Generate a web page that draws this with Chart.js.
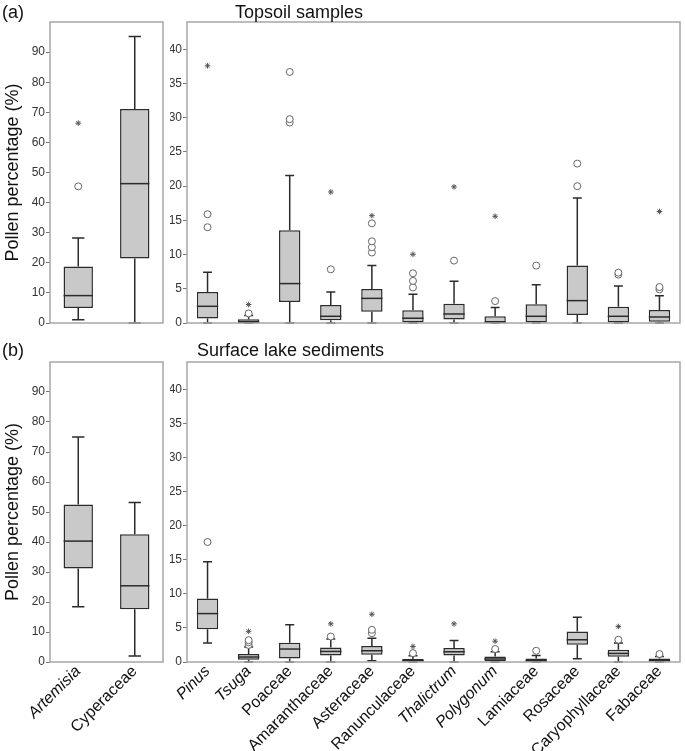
<!DOCTYPE html>
<html>
<head>
<meta charset="utf-8">
<script src="https://cdn.jsdelivr.net/npm/chart.js@4.4.1/dist/chart.umd.min.js"></script>
<style>
  body { margin: 0; background: #fff; }
  #wrap { position: relative; width: 685px; height: 751px; font-family: "Liberation Sans", Arial, sans-serif; }
  canvas { position: absolute; }
  .lbl { position: absolute; font-size: 18px; color: #111; white-space: nowrap; z-index: 2; }
</style>
</head>
<body>
<div id="wrap">
  <canvas id="topLeft" width="170" height="340" style="left:0;top:0"></canvas>
  <canvas id="topRight" width="515" height="340" style="left:170px;top:0"></canvas>
  <canvas id="lakeLeft" width="170" height="411" style="left:0;top:340px"></canvas>
  <canvas id="lakeRight" width="515" height="411" style="left:170px;top:340px"></canvas>
  <div class="lbl" style="left:2px;top:2px">(a)</div>
  <div class="lbl" style="left:235px;top:2px">Topsoil samples</div>
  <div class="lbl" style="left:2px;top:340px">(b)</div>
  <div class="lbl" style="left:197px;top:340px">Surface lake sediments</div>
</div>
<script>
const FONT = '"Liberation Sans", Arial, sans-serif';

const majorTaxa = ['Artemisia', 'Cyperaceae'];
const minorTaxa = ['Pinus', 'Tsuga', 'Poaceae', 'Amaranthaceae', 'Asteraceae', 'Ranunculaceae',
  'Thalictrum', 'Polygonum', 'Lamiaceae', 'Rosaceae', 'Caryophyllaceae', 'Fabaceae'];
const italicTaxa = ['Artemisia', 'Pinus', 'Tsuga', 'Thalictrum', 'Polygonum'];

const majorTicks = [0, 10, 20, 30, 40, 50, 60, 70, 80, 90];
const minorTicks = [0, 5, 10, 15, 20, 25, 30, 35, 40];

// (a) topsoil samples - major taxa
const topMajorMin = [1.1, 0];
const topMajorQ1 = [5.0, 21.4];
const topMajorMedian = [9.1, 46.3];
const topMajorQ3 = [18.8, 71.1];
const topMajorMax = [28.2, 95.2];
const topMajorCircles = [[45.4], []];
const topMajorStars = [[66.4], []];

// (a) topsoil samples - other taxa
const topMinorMin = [0, 0, 0, 0, 0, 0, 0, 0, 0, 0, 0, 0];
const topMinorQ1 = [0.64, 0, 3.07, 0.39, 1.66, 0, 0.5, 0, 0, 1.17, 0, 0.2];
const topMinorMedian = [2.44, 0.1, 5.76, 0.98, 3.6, 0.7, 1.32, 0.1, 0.98, 3.27, 0.98, 0.88];
const topMinorQ3 = [4.53, 0.54, 13.55, 2.63, 4.97, 1.86, 2.83, 0.98, 2.73, 8.39, 2.39, 1.9];
const topMinorMax = [7.41, 1.08, 21.55, 4.53, 8.39, 4.2, 6.1, 2.25, 5.6, 18.28, 5.4, 4.0];
const topMinorCircles = [[14.0, 15.9], [1.4], [29.3, 29.8, 36.7], [7.85], [10.3, 11.07, 11.94, 14.57],
  [5.2, 6.15, 7.27], [9.12], [3.2], [8.39], [20.0, 23.3], [7.07, 7.36], [4.92, 5.26]];
const topMinorStars = [[37.6], [2.7], [], [19.15], [15.7], [10.04], [19.9], [15.6], [], [], [], [16.3]];

// (b) surface lake sediments - major taxa
const lakeMajorMin = [18.4, 2.0];
const lakeMajorQ1 = [31.2, 17.6];
const lakeMajorMedian = [40.3, 25.4];
const lakeMajorQ3 = [52.5, 42.6];
const lakeMajorMax = [75.0, 53.2];
const lakeMajorCircles = [[], []];
const lakeMajorStars = [[], []];

// (b) surface lake sediments - other taxa
const lakeMinorMin = [2.8, 0, 0, 0, 0.2, 0, 0, 0, 0, 0.48, 0, 0];
const lakeMinorQ1 = [4.8, 0.34, 0.53, 0.97, 1.07, 0, 0.95, 0.1, 0, 2.53, 0.78, 0];
const lakeMinorMedian = [7.1, 0.73, 1.9, 1.55, 1.65, 0.2, 1.5, 0.44, 0.15, 3.26, 1.26, 0.2];
const lakeMinorQ3 = [9.3, 1.17, 2.82, 2.14, 2.34, 0.45, 2.04, 0.82, 0.5, 4.47, 1.8, 0.5];
const lakeMinorMax = [14.7, 2.19, 5.45, 3.36, 3.5, 0.92, 3.16, 1.5, 0.97, 6.57, 2.77, 0.82];
const lakeMinorCircles = [[17.6], [2.5, 2.9, 3.2], [], [3.74], [4.23, 4.72], [1.3], [], [1.9], [1.65], [], [3.26], [1.17]];
const lakeMinorStars = [[], [4.5], [], [5.6], [7.0], [2.28], [5.6], [3.05], [], [], [5.2], []];

function toPoints(cats, lists) {
  const pts = [];
  lists.forEach((vals, i) => vals.forEach((v) => pts.push({ x: cats[i], y: v })));
  return pts;
}

const boxWhiskers = {
  id: 'boxWhiskers',
  beforeDatasetsDraw(chart, args, opts) {
    const s = opts.stats;
    const y = chart.scales.y;
    const meta = chart.getDatasetMeta(2);
    const ctx = chart.ctx;
    ctx.save();
    ctx.strokeStyle = '#2b2b2b';
    ctx.lineWidth = 1.5;
    meta.data.forEach((bar, i) => {
      const half = bar.width * 0.21;
      const segs = [[s.max[i], s.q3[i]], [s.min[i], s.q1[i]]];
      segs.forEach(([end, edge]) => {
        const ye = y.getPixelForValue(end);
        ctx.beginPath();
        ctx.moveTo(bar.x, ye);
        ctx.lineTo(bar.x, y.getPixelForValue(edge));
        ctx.moveTo(bar.x - half, ye);
        ctx.lineTo(bar.x + half, ye);
        ctx.stroke();
      });
    });
    ctx.restore();
  },
  afterDatasetsDraw(chart, args, opts) {
    const s = opts.stats;
    const y = chart.scales.y;
    const meta = chart.getDatasetMeta(2);
    const ctx = chart.ctx;
    ctx.save();
    ctx.strokeStyle = '#2b2b2b';
    ctx.lineWidth = 1.5;
    meta.data.forEach((bar, i) => {
      const ym = y.getPixelForValue(s.median[i]);
      ctx.beginPath();
      ctx.moveTo(bar.x - bar.width / 2, ym);
      ctx.lineTo(bar.x + bar.width / 2, ym);
      ctx.stroke();
    });
    const a = chart.chartArea;
    ctx.strokeStyle = '#a6a6a6';
    ctx.lineWidth = 1.5;
    ctx.strokeRect(a.left, a.top, a.right - a.left, a.bottom - a.top);
    ctx.restore();
  }
};

function makePanel(id, cats, s, cfg) {
  return new Chart(document.getElementById(id), {
    type: 'bar',
    data: {
      labels: cats,
      datasets: [
        {
          type: 'scatter', data: toPoints(cats, s.circles), pointStyle: 'circle', pointRadius: 3.5,
          backgroundColor: '#fff', borderColor: '#666', borderWidth: 1, order: 0
        },
        {
          type: 'scatter', data: toPoints(cats, s.stars), pointStyle: 'star', pointRadius: 2.8,
          borderColor: '#555', borderWidth: 1, order: 0
        },
        {
          data: cats.map((c, i) => [s.q1[i], s.q3[i]]),
          backgroundColor: '#c9c9c9', borderColor: '#2b2b2b', borderWidth: 1.5, borderSkipped: false,
          barPercentage: 0.52, categoryPercentage: 1, order: 1
        }
      ]
    },
    options: {
      responsive: false,
      animation: false,
      events: [],
      layout: { padding: { top: 22, right: cfg.padRight, left: 0, bottom: 0 } },
      plugins: { legend: { display: false }, tooltip: { enabled: false }, boxWhiskers: { stats: s } },
      scales: {
        x: {
          type: 'category',
          offset: true,
          grid: { display: false },
          border: { display: false },
          afterFit: (scale) => { scale.height = cfg.xHeight; },
          ticks: {
            display: cfg.showLabels,
            autoSkip: false,
            minRotation: 45,
            maxRotation: 45,
            padding: -8,
            color: '#111',
            font: (c) => ({ family: FONT, size: 16, style: italicTaxa.includes(cats[c.index]) ? 'italic' : 'normal' })
          }
        },
        y: {
          min: 0,
          max: cfg.yMax,
          border: { display: false },
          grid: { drawOnChartArea: false, tickLength: 4, color: '#777' },
          afterFit: (scale) => { scale.width = cfg.yWidth; },
          afterBuildTicks: (scale) => { scale.ticks = cfg.ticks.map((v) => ({ value: v })); },
          ticks: { padding: 1, color: '#333', font: { family: FONT, size: 12 } },
          title: {
            display: cfg.showTitle,
            text: 'Pollen percentage (%)',
            color: '#111',
            padding: { top: 2, bottom: 0 },
            font: { family: FONT, size: 18 }
          }
        }
      }
    },
    plugins: [boxWhiskers]
  });
}

makePanel('topLeft', majorTaxa, {
  min: topMajorMin, q1: topMajorQ1, median: topMajorMedian, q3: topMajorQ3, max: topMajorMax,
  circles: topMajorCircles, stars: topMajorStars
}, { padRight: 7, xHeight: 17, yWidth: 50, yMax: 100, ticks: majorTicks, showLabels: false, showTitle: true });

makePanel('topRight', minorTaxa, {
  min: topMinorMin, q1: topMinorQ1, median: topMinorMedian, q3: topMinorQ3, max: topMinorMax,
  circles: topMinorCircles, stars: topMinorStars
}, { padRight: 5, xHeight: 17, yWidth: 17, yMax: 44, ticks: minorTicks, showLabels: false, showTitle: false });

makePanel('lakeLeft', majorTaxa, {
  min: lakeMajorMin, q1: lakeMajorQ1, median: lakeMajorMedian, q3: lakeMajorQ3, max: lakeMajorMax,
  circles: lakeMajorCircles, stars: lakeMajorStars
}, { padRight: 7, xHeight: 89, yWidth: 50, yMax: 100, ticks: majorTicks, showLabels: true, showTitle: true });

makePanel('lakeRight', minorTaxa, {
  min: lakeMinorMin, q1: lakeMinorQ1, median: lakeMinorMedian, q3: lakeMinorQ3, max: lakeMinorMax,
  circles: lakeMinorCircles, stars: lakeMinorStars
}, { padRight: 5, xHeight: 89, yWidth: 17, yMax: 44, ticks: minorTicks, showLabels: true, showTitle: false });
</script>
</body>
</html>
